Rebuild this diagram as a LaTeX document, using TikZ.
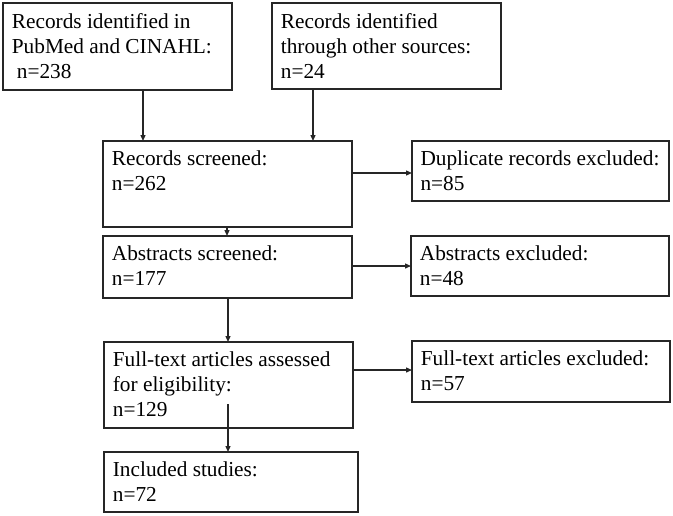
\documentclass[tikz,border=0pt]{standalone}
\usepackage{fontspec}
\setmainfont{Liberation Serif}
\usetikzlibrary{arrows.meta,calc}
\begin{document}
\begin{tikzpicture}[x=1pt,y=-1pt,
  box/.style={draw=black!85, line width=1.3pt, anchor=north west, inner sep=0pt, outer sep=0pt},
  txt/.style={anchor=north west, inner sep=0pt, align=left, font=\fontsize{21.3pt}{25pt}\selectfont},
  arr/.style={draw=black!85, line width=1.3pt, -{Triangle[length=6pt,width=5pt]}}]
\useasboundingbox (0,0) rectangle (673,515);
% boxes
\node[box, minimum width=229pt, minimum height=87pt] (b1) at (3,3) {};
\node[box, minimum width=229pt, minimum height=86pt] (b2) at (272,3) {};
\node[box, minimum width=249pt, minimum height=86pt] (b3) at (103,141) {};
\node[box, minimum width=257pt, minimum height=60pt] (dup) at (412,141) {};
\node[box, minimum width=249pt, minimum height=62pt] (b4) at (103,236) {};
\node[box, minimum width=258pt, minimum height=60pt] (ae) at (411,236) {};
\node[box, minimum width=249pt, minimum height=86pt] (b5) at (104,342) {};
\node[box, minimum width=258pt, minimum height=61pt] (fe) at (412,341) {};
\node[box, minimum width=254pt, minimum height=60pt] (b6) at (104,452) {};
% texts
\node[txt] (b1t) at ([xshift=8.7pt,yshift=-10pt]b1.north west) {Records identified in\\PubMed and CINAHL:\\\hspace*{5pt}n=238};
\node[txt] (b2t) at ([xshift=8.7pt,yshift=-10pt]b2.north west) {Records identified\\through other sources:\\n=24};
\node[txt] (b3t) at ([xshift=8.7pt,yshift=-10pt]b3.north west) {Records screened:\\n=262};
\node[txt] (dupt) at ([xshift=8.3pt,yshift=-10pt]dup.north west) {Duplicate records excluded:\\n=85};
\node[txt] (b4t) at ([xshift=8.7pt,yshift=-10pt]b4.north west) {Abstracts screened:\\n=177};
\node[txt] (aet) at ([xshift=8.7pt,yshift=-10pt]ae.north west) {Abstracts excluded:\\n=48};
\node[txt] (b5t) at ([xshift=8.7pt,yshift=-10pt]b5.north west) {Full-text articles assessed\\for eligibility:\\n=129};
\node[txt] (fet) at ([xshift=8.7pt,yshift=-10pt]fe.north west) {Full-text articles excluded:\\n=57};
\node[txt] (b6t) at ([xshift=8.7pt,yshift=-10pt]b6.north west) {Included studies:\\n=72};
% connector start points
\coordinate (s1) at ([xshift=140pt]b1.south west);
\coordinate (s2) at ([xshift=41pt]b2.south west);
\coordinate (s3r) at ([yshift=-32pt]b3.north east);
\coordinate (s3d) at ([xshift=124pt]b3.south west);
\coordinate (s4r) at ([yshift=-30pt]b4.north east);
\coordinate (s4d) at ([xshift=125pt]b4.south west);
\coordinate (s5r) at ([yshift=-28pt]b5.north east);
\coordinate (s5d) at ([xshift=124pt,yshift=-62pt]b5.north west);
% connectors
\draw[arr] (s1) -- (s1 |- b3.north);
\draw[arr] (s2) -- (s2 |- b3.north);
\draw[arr] (s3r) -- (s3r -| dup.west);
\draw[arr] (s3d) -- (s3d |- b4.north);
\draw[arr] (s4r) -- (s4r -| ae.west);
\draw[arr] (s4d) -- (s4d |- b5.north);
\draw[arr] (s5r) -- (s5r -| fe.west);
\draw[arr] (s5d) -- (s5d |- b6.north);
\end{tikzpicture}
\end{document}
